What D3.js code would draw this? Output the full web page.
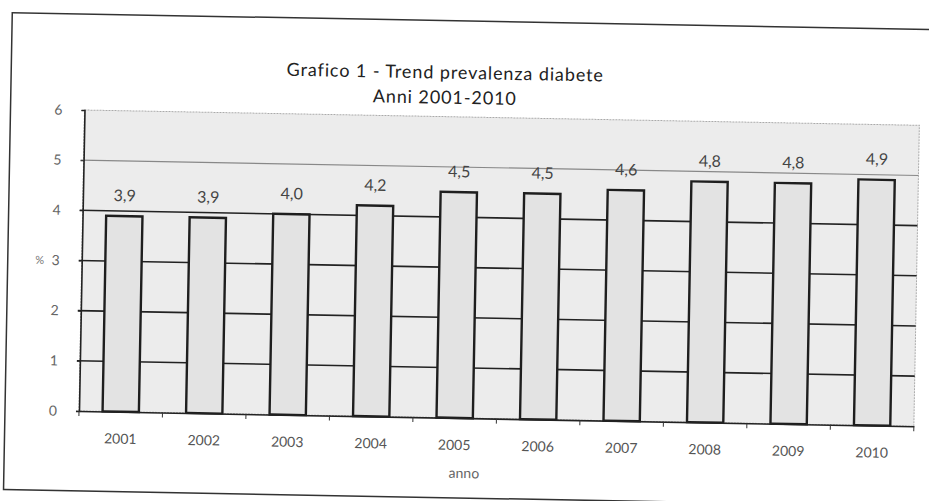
<!DOCTYPE html>
<html><head><meta charset="utf-8">
<script src="https://cdn.jsdelivr.net/npm/d3@7"></script>
<style>body{margin:0;background:#fff;}svg{display:block;}</style>
</head><body>
<svg id="c" width="929" height="501"></svg>
<script>
const years = ["2001","2002","2003","2004","2005","2006","2007","2008","2009","2010"];
const prevalence = [3.9,3.9,4.0,4.2,4.5,4.5,4.6,4.8,4.8,4.9];
const yTicks = [0,1,2,3,4,5,6];
const titleLines = ["Grafico 1 - Trend prevalenza diabete","Anni 2001-2010"];
const xTitle = "anno", yTitle = "%";

const svg = d3.select("#c");
const root = svg.append("g").attr("transform","rotate(1.05,464,250)");
const it = d3.formatLocale({decimal:",",thousands:".",grouping:[3],currency:["","€"]});
const fmt = it.format(".1f");

// outer frame
root.append("rect").attr("x",8).attr("y",21).attr("width",940).attr("height",477)
  .attr("fill","#fff").attr("stroke","#333").attr("stroke-width",1.5);

const L=82,R=917,T=117,B=418;
const x = d3.scaleBand().domain(years).range([L,R]).paddingInner(0.565).paddingOuter(0.2825);
const y = d3.scaleLinear().domain([0,6]).range([B,T]);

// plot area
root.append("rect").attr("x",L).attr("y",T).attr("width",R-L).attr("height",B-T)
  .attr("fill","#ececec").attr("stroke","#aaa").attr("stroke-dasharray","2,1").attr("stroke-width",1);

// gridlines
root.append("g").selectAll("line").data(yTicks.filter(d=>d>0&&d<6)).join("line")
  .attr("x1",L-3).attr("x2",R).attr("y1",d=>y(d)).attr("y2",d=>y(d))
  .attr("stroke",d=>d===5?"#888":"#222").attr("stroke-width",d=>d===5?1.2:1.6);

// bars
root.append("g").selectAll("rect").data(years).join("rect")
  .attr("x",d=>x(d)).attr("width",x.bandwidth())
  .attr("y",(d,i)=>y(prevalence[i])).attr("height",(d,i)=>B-y(prevalence[i]))
  .attr("fill","#e3e3e3").attr("stroke","#1e1e1e").attr("stroke-width",2.4);

// value labels
root.append("g").selectAll("text").data(years).join("text")
  .attr("x",d=>x(d)+x.bandwidth()/2).attr("y",(d,i)=>y(prevalence[i])-15)
  .attr("text-anchor","middle").attr("font-family","Lato, sans-serif").attr("font-size",16)
  .attr("fill","#444").text((d,i)=>fmt(prevalence[i]));

// y axis
const ya = root.append("g").attr("transform",`translate(${L},0)`)
  .call(d3.axisLeft(y).tickValues(yTicks).tickSize(3).tickPadding(19).tickFormat(d3.format("d")));
ya.select(".domain").attr("stroke","#222").attr("stroke-width",1.6);
ya.selectAll(".tick line").attr("stroke","#222");
ya.selectAll("text").attr("font-family","Lato, sans-serif").attr("font-size",14).attr("fill","#666");

// x axis
const xa = root.append("g").attr("transform",`translate(0,${B})`)
  .call(d3.axisBottom(x).tickSize(0).tickPadding(22));
xa.select(".domain").attr("stroke","#222").attr("stroke-width",1.6);
xa.selectAll("text").attr("font-family","Lato, sans-serif").attr("font-size",14).attr("fill","#555");
// tick marks between categories
const bounds = d3.range(years.length+1).map(i=>L+i*(R-L)/years.length);
root.append("g").selectAll("line").data(bounds).join("line")
  .attr("x1",d=>d).attr("x2",d=>d).attr("y1",B).attr("y2",B+5)
  .attr("stroke","#333").attr("stroke-width",1);

// titles
root.append("g").selectAll("text").data(titleLines).join("text")
  .attr("x",442).attr("y",(d,i)=>79+i*25).attr("text-anchor","middle")
  .attr("font-family","Lato, sans-serif").attr("font-size",18).attr("letter-spacing",0.9)
  .attr("fill","#222").text(d=>d);
root.append("text").attr("x",468).attr("y",478).attr("text-anchor","middle")
  .attr("font-family","Lato, sans-serif").attr("font-size",14).attr("fill","#666").text(xTitle);
root.append("text").attr("x",40).attr("y",y(3)+4).attr("text-anchor","middle")
  .attr("font-family","Lato, sans-serif").attr("font-size",11).attr("fill","#777").text(yTitle);
</script>
</body></html>
